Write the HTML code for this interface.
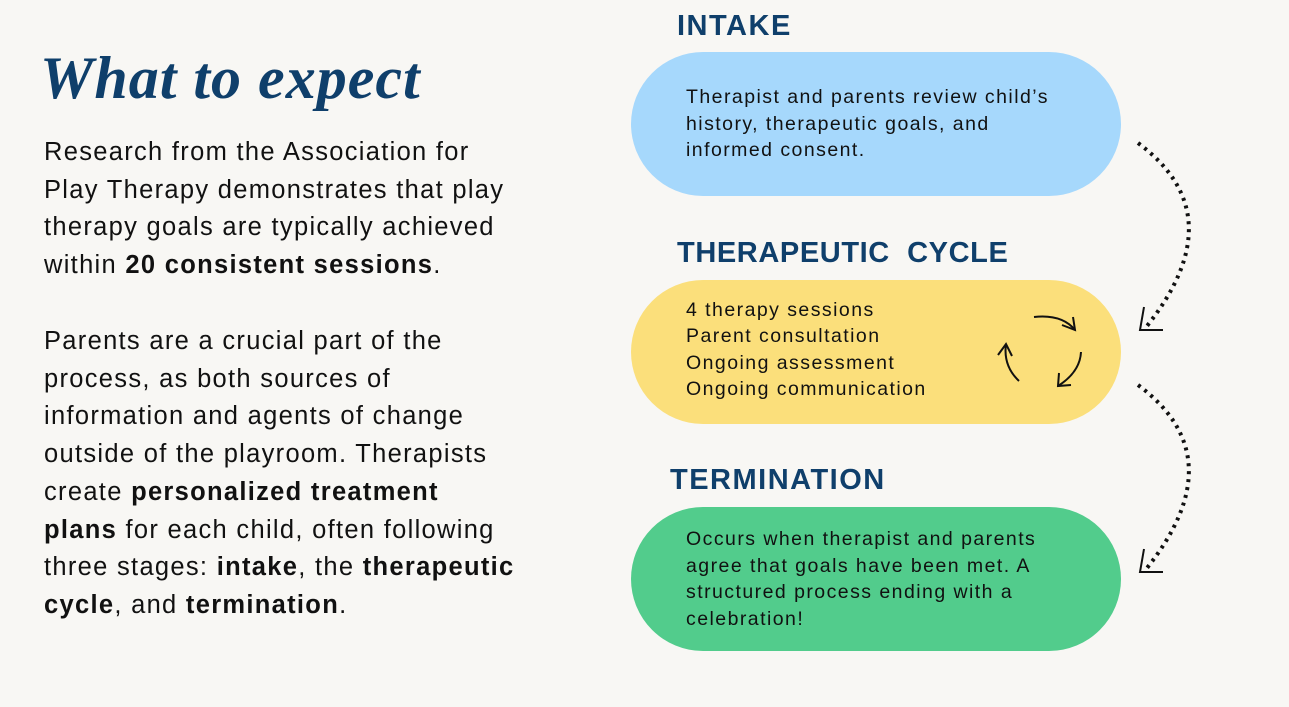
<!DOCTYPE html>
<html><head><meta charset="utf-8"><style>
body{margin:0;width:1289px;height:707px;background:#f8f7f4;position:relative;overflow:hidden;font-family:"Liberation Sans",sans-serif;color:#111}
.t{position:absolute;left:40px;top:44px;font-family:"Liberation Serif",serif;font-style:italic;font-weight:bold;font-size:60px;color:#0f3f6b;letter-spacing:1px}
.p{position:absolute;left:44px;font-size:25.5px;line-height:37.7px;white-space:nowrap;letter-spacing:1.3px}
.h{position:absolute;font-weight:bold;font-size:29px;color:#0f3f6b;letter-spacing:1.5px}
.pill{position:absolute;left:631px;width:490px;height:144px;border-radius:72px;box-sizing:border-box;padding-left:55px;font-size:19.5px;letter-spacing:1.45px;line-height:26.5px;display:flex;flex-direction:column;justify-content:center;white-space:nowrap}
</style></head><body>
<div class="t">What to expect</div>
<div class="p" style="top:134px">Research from the Association for<br>Play Therapy demonstrates that play<br>therapy goals are typically achieved<br>within <b>20 consistent sessions</b>.</div>
<div class="p" style="top:323px">Parents are a crucial part of the<br>process, as both sources of<br>information and agents of change<br>outside of the playroom. Therapists<br>create <b>personalized treatment</b><br><b>plans</b> for each child, often following<br>three stages: <b>intake</b>, the <b>therapeutic</b><br><b>cycle</b>, and <b>termination</b>.</div>
<div class="h" style="left:677px;top:10px">INTAKE</div>
<div class="h" style="left:677px;top:237px;letter-spacing:0.6px">THERAPEUTIC&nbsp; CYCLE</div>
<div class="h" style="left:670px;top:464px">TERMINATION</div>
<div class="pill" style="top:52px;background:#a6d8fc">Therapist and parents review child’s<br>history, therapeutic goals, and<br>informed consent.</div>
<div class="pill" style="top:280px;background:#fbdf7b;padding-bottom:5px">4 therapy sessions<br>Parent consultation<br>Ongoing assessment<br>Ongoing communication</div>
<div class="pill" style="top:507px;background:#52cc8c">Occurs when therapist and parents<br>agree that goals have been met. A<br>structured process ending with a<br>celebration!</div>
<svg style="position:absolute;left:0;top:0" width="1289" height="707" fill="none" stroke="#111">
<path d="M1138 143 Q1235 215 1147 326" stroke-width="4" stroke-dasharray="3 5"/>
<path d="M1144 307 L1140 330 L1163 330" stroke-width="2"/>
<path d="M1138 385 Q1235 457 1147 568" stroke-width="4" stroke-dasharray="3 5"/>
<path d="M1144 549 L1140 572 L1163 572" stroke-width="2"/>
<g stroke-width="2">
<path d="M1034 317 Q1062 314 1075 330"/><path d="M1062 325 L1075 330 L1073 317"/>
<path d="M1081 352 Q1080 372 1058 386"/><path d="M1059 373 L1058 386 L1071 385"/>
<path d="M1019 381 Q1003 366 1006 344"/><path d="M998 355 L1006 344 L1012 356"/>
</g></svg>
</body></html>
